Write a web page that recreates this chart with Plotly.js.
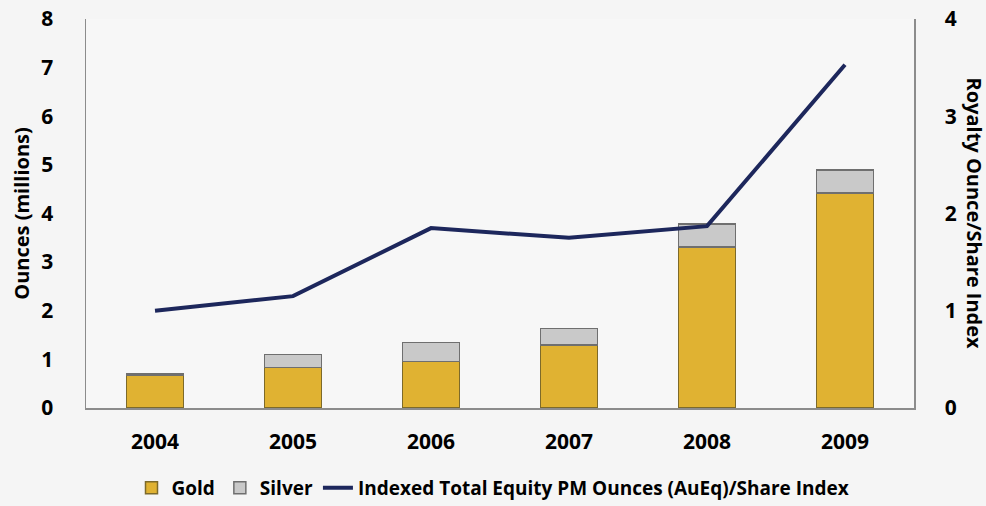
<!DOCTYPE html>
<html>
<head>
<meta charset="utf-8">
<script src="https://cdn.plot.ly/plotly-3.0.1.min.js"></script>
<style>html,body{margin:0;padding:0;background:#f5f5f5;}#chart{width:986px;height:506px;}</style>
</head>
<body>
<div id="chart"></div>
<script>
var years = ['2004', '2005', '2006', '2007', '2008', '2009'];
var gold = [0.68, 0.83, 0.96, 1.30, 3.31, 4.42];
var silver = [0.02, 0.27, 0.39, 0.33, 0.47, 0.47];
var index = [1.0, 1.15, 1.85, 1.75, 1.87, 3.53];
var leftTicks = [0, 1, 2, 3, 4, 5, 6, 7, 8];
var rightTicks = [0, 1, 2, 3, 4];

var fam = 'Open Sans, Liberation Sans, sans-serif';

var data = [
  {type: 'bar', name: 'Gold', x: years, y: gold,
   marker: {color: '#E0B232', line: {color: '#7d6a2a', width: 1.5}}, width: 0.41},
  {type: 'bar', name: 'Silver', x: years, y: silver,
   marker: {color: '#C9C9C9', line: {color: '#6f6f6f', width: 1.5}}, width: 0.41},
  {type: 'scatter', mode: 'lines', name: 'Indexed Total Equity PM Ounces (AuEq)/Share Index',
   x: years, y: index, yaxis: 'y2', line: {color: '#1d275c', width: 4}}
];

var layout = {
  width: 986, height: 506,
  margin: {l: 86, r: 72, t: 19, b: 98},
  paper_bgcolor: '#f5f5f5', plot_bgcolor: '#f7f7f7',
  barmode: 'stack',
  showlegend: true,
  legend: {orientation: 'h', x: 0.5, xref: 'container', xanchor: 'center',
           y: 0.036, yref: 'container', yanchor: 'middle',
           font: {family: fam, size: 19, color: '#000', weight: 'bold'}, traceorder: 'normal'},
  xaxis: {type: 'category', showline: true, linecolor: '#8c8c8c', linewidth: 1.5,
          showgrid: false, ticks: '', ticklabelstandoff: 14,
          tickfont: {family: fam, size: 21, color: '#000', weight: 'bold'}},
  yaxis: {range: [0, 8], tickvals: leftTicks, showline: true, linecolor: '#8c8c8c', linewidth: 1.5,
          showgrid: false, zeroline: false, ticks: '', ticklabelstandoff: 27,
          tickfont: {family: fam, size: 21, color: '#000', weight: 'bold'},
          title: {text: 'Ounces (millions)', standoff: 6,
                  font: {family: fam, size: 20, color: '#000', weight: 'bold'}}},
  yaxis2: {range: [0, 4], tickvals: rightTicks, overlaying: 'y', side: 'right', showline: true,
           linecolor: '#8c8c8c', linewidth: 1.5, showgrid: false, zeroline: false, ticks: '',
           ticklabelstandoff: 25,
           tickfont: {family: fam, size: 21, color: '#000', weight: 'bold'}},
  annotations: [{text: 'Royalty Ounce/Share Index', xref: 'paper', yref: 'paper',
                 x: 1, xshift: 60, y: 0.5, xanchor: 'center', yanchor: 'middle',
                 textangle: 90, showarrow: false,
                 font: {family: fam, size: 20, color: '#000', weight: 'bold'}}]
};

Plotly.newPlot('chart', data, layout, {displayModeBar: false, staticPlot: true});
</script>
</body>
</html>
